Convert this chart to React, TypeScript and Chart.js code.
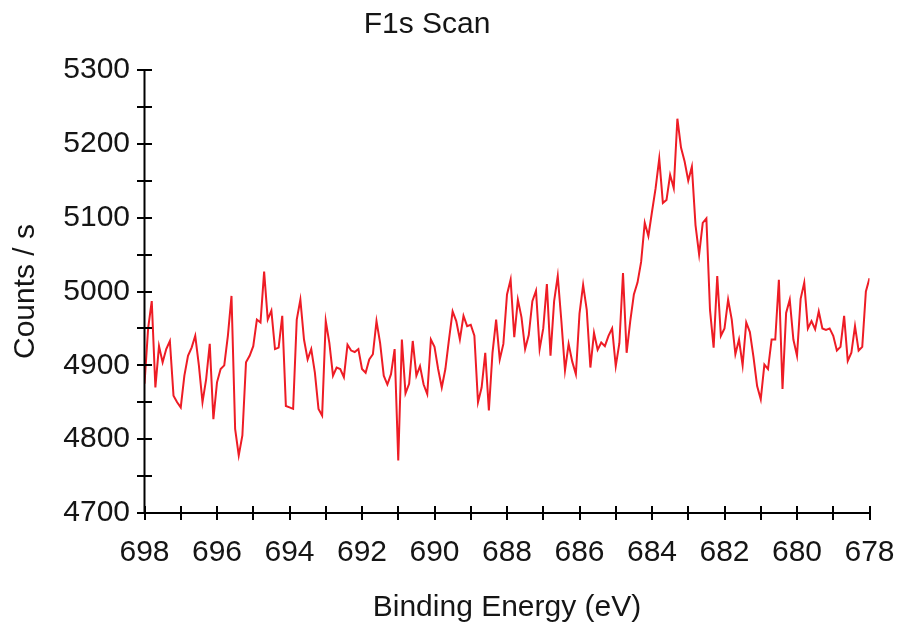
import React, { useEffect, useRef } from 'react';
import { Chart, registerables } from 'chart.js';

Chart.register(...registerables);

const TITLE = 'F1s Scan';
const X_LABEL = 'Binding Energy (eV)';
const Y_LABEL = 'Counts / s';

// scan grid: 698 eV down to 678 eV in 0.1 eV steps
const START_EV = 698;
const STEP_EV = 0.1;
const X_MIN = 678;
const X_MAX = 698;
const X_STEP = 1;
const Y_MIN = 4700;
const Y_MAX = 5300;
const Y_STEP = 50;

const COUNTS = [
  4875, 4950, 4987, 4870, 4926, 4904, 4922, 4933, 4859, 4850,
  4843, 4886, 4913, 4924, 4940, 4900, 4850, 4881, 4929, 4827,
  4877, 4895, 4900, 4940, 4994, 4814, 4778, 4805, 4904, 4913,
  4926, 4962, 4958, 5027, 4962, 4974, 4922, 4924, 4967, 4845,
  4843, 4841, 4962, 4989, 4935, 4908, 4922, 4890, 4841, 4832,
  4960, 4930, 4886, 4897, 4895, 4884, 4928, 4920, 4918, 4922,
  4895, 4890, 4908, 4915, 4960, 4930, 4886, 4874, 4888, 4922,
  4771, 4935, 4862, 4875, 4933, 4886, 4899, 4874, 4861, 4935,
  4925, 4895, 4870, 4895, 4935, 4973, 4960, 4935, 4967, 4953,
  4955, 4940, 4850, 4870, 4917, 4839, 4917, 4962, 4908, 4929,
  4996, 5016, 4938, 4989, 4965, 4922, 4941, 4987, 5001, 4922,
  4950, 5010, 4913, 4987, 5021, 4960, 4893, 4929, 4905, 4888,
  4970, 5009, 4975, 4897, 4944, 4921, 4931, 4926, 4940, 4950,
  4899, 4930, 5025, 4917, 4960, 4996, 5012, 5040, 5093, 5075,
  5108, 5140, 5180, 5120, 5124, 5158, 5140, 5234, 5195, 5176,
  5150, 5169, 5090, 5050, 5093, 5099, 4975, 4924, 5021, 4940,
  4950, 4989, 4962, 4915, 4935, 4900, 4958, 4945, 4911, 4872,
  4854, 4901, 4895, 4935, 4935, 5016, 4868, 4971, 4989, 4935,
  4913, 4990, 5012, 4950, 4960, 4949, 4973, 4950, 4948, 4950,
  4940, 4920, 4925, 4967, 4906, 4917, 4953, 4920, 4925, 5000,
  5018,
];

const ENERGIES = COUNTS.map((_, i) => +(START_EV - i * STEP_EV).toFixed(1));

const FONT_FAMILY = '"Liberation Sans", Arial, sans-serif';
const TEXT_COLOR = '#151515';
const LINE_COLOR = '#ee1c25';

const crossAxesPlugin = {
  id: 'crossAxes',
  afterDatasetsDraw(chart: any) {
    const { ctx, chartArea, scales } = chart;
    const xs = scales.x;
    const ys = scales.y;
    ctx.save();
    ctx.strokeStyle = '#000';
    ctx.lineWidth = 2;
    ctx.beginPath();
    ctx.moveTo(chartArea.left, chartArea.top);
    ctx.lineTo(chartArea.left, chartArea.bottom);
    ctx.lineTo(chartArea.right, chartArea.bottom);
    ctx.stroke();
    ctx.beginPath();
    ys.ticks.forEach((t: any) => {
      const y = Math.round(ys.getPixelForValue(t.value));
      ctx.moveTo(chartArea.left - 7.5, y);
      ctx.lineTo(chartArea.left + 7.5, y);
    });
    xs.ticks.forEach((t: any) => {
      const x = Math.round(xs.getPixelForValue(t.value));
      ctx.moveTo(x, chartArea.bottom - 7);
      ctx.lineTo(x, chartArea.bottom + 7);
    });
    ctx.stroke();
    ctx.restore();
  },
};

const titlePlugin = {
  id: 'plotTitle',
  afterDraw(chart: any) {
    const { ctx } = chart;
    ctx.save();
    ctx.font = `30px ${FONT_FAMILY}`;
    ctx.fillStyle = TEXT_COLOR;
    ctx.textAlign = 'center';
    ctx.textBaseline = 'middle';
    ctx.fillText(TITLE, 427, 25);
    ctx.restore();
  },
};

export default function App() {
  const canvasRef = useRef<HTMLCanvasElement>(null);

  useEffect(() => {
    if (!canvasRef.current) return;
    const font = { family: FONT_FAMILY, size: 30 };
    const chart = new Chart(canvasRef.current, {
      type: 'line',
      data: {
        datasets: [
          {
            label: 'F1s',
            data: ENERGIES.map((e, i) => ({ x: e, y: COUNTS[i] })),
            borderColor: LINE_COLOR,
            backgroundColor: LINE_COLOR,
            borderWidth: 2,
            pointRadius: 0,
            tension: 0,
            fill: false,
          },
        ],
      },
      options: {
        responsive: false,
        animation: false,
        events: [],
        layout: { padding: { left: 0, right: 29.5, top: 70, bottom: 0 } },
        plugins: {
          legend: { display: false },
          title: { display: false },
          tooltip: { enabled: false },
        },
        scales: {
          x: {
            type: 'linear',
            min: X_MIN,
            max: X_MAX,
            reverse: true,
            grid: { display: false, drawTicks: false },
            border: { display: false },
            ticks: {
              stepSize: X_STEP,
              autoSkip: false,
              maxRotation: 0,
              minRotation: 0,
              padding: 21.5,
              color: TEXT_COLOR,
              font,
              callback: (v: any) => (Number(v) % 2 === 0 ? String(v) : ''),
            },
            title: {
              display: true,
              text: X_LABEL,
              color: TEXT_COLOR,
              font,
              padding: { top: 0, bottom: 5 },
            },
            afterFit: (scale: any) => {
              scale.height = 118;
              scale.paddingLeft = 0;
              scale.paddingRight = 0;
            },
          },
          y: {
            type: 'linear',
            min: Y_MIN,
            max: Y_MAX,
            grid: { display: false, drawTicks: false },
            border: { display: false },
            ticks: {
              stepSize: Y_STEP,
              autoSkip: false,
              padding: 14.5,
              color: TEXT_COLOR,
              font,
              callback: (v: any) => (Number(v) % 100 === 0 ? String(v) : ''),
            },
            title: {
              display: true,
              text: Y_LABEL,
              color: TEXT_COLOR,
              font,
              padding: { top: 8, bottom: 0 },
            },
            afterFit: (scale: any) => {
              scale.width = 144.5;
              scale.paddingTop = 0;
              scale.paddingBottom = 0;
            },
          },
        },
      },
      plugins: [crossAxesPlugin, titlePlugin],
    });
    return () => chart.destroy();
  }, []);

  return (
    <div style={{ position: 'absolute', left: 0, top: 0, width: 899, height: 631, background: '#fff' }}>
      <canvas ref={canvasRef} width={899} height={631} />
    </div>
  );
}
